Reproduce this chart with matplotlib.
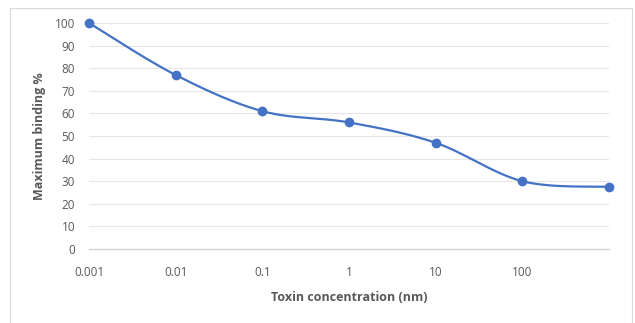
import matplotlib.pyplot as plt
import numpy as np
from matplotlib.patches import Rectangle

# data
categories = ["0.001", "0.01", "0.1", "1", "10", "100", ""]
binding = [100, 77, 61, 56, 47, 30, 27.5]

BLUE = "#4472C4"
GREY_TEXT = "#595959"


def smooth_curve(xs, ys, n=40):
    """Catmull-Rom curve through the points, like Excel's smoothed line."""
    pts = np.column_stack([xs, ys]).astype(float)
    padded = np.vstack([pts[0], pts, pts[-1]])
    out = []
    for i in range(1, len(padded) - 2):
        p0, p1, p2, p3 = padded[i - 1], padded[i], padded[i + 1], padded[i + 2]
        t = np.linspace(0, 1, n)[:, None]
        seg = 0.5 * ((2 * p1) + (-p0 + p2) * t
                     + (2 * p0 - 5 * p1 + 4 * p2 - p3) * t ** 2
                     + (-p0 + 3 * p1 - 3 * p2 + p3) * t ** 3)
        out.append(seg)
    curve = np.vstack(out)
    return curve[:, 0], curve[:, 1]


plt.rcParams["font.family"] = ["Open Sans", "DejaVu Sans"]

fig = plt.figure(figsize=(6.35, 3.23), dpi=100)
fig.patches.append(Rectangle((10 / 635, -0.01), 622 / 635, 1 - 8 / 323 + 0.01,
                             transform=fig.transFigure, fill=False,
                             edgecolor="#d9d9d9", linewidth=0.8))

ax = fig.add_axes([89 / 635, 1 - 249 / 323, 520 / 635, 226 / 323])

x = np.arange(len(binding))
sx, sy = smooth_curve(x, binding)
ax.plot(sx, sy, color=BLUE, linewidth=1.6, zorder=3, clip_on=False)
ax.plot(x, binding, "o", color=BLUE, markersize=6, zorder=4, clip_on=False)

ax.set_xlim(0, len(binding) - 1)
ax.set_ylim(0, 100)
ax.set_yticks(range(0, 101, 10))
ax.set_xticks(x)
ax.set_xticklabels(categories)
ax.grid(axis="y", color="#e6e6e6", linewidth=0.8)
ax.set_axisbelow(True)

for side in ("top", "right", "left"):
    ax.spines[side].set_visible(False)
ax.spines["bottom"].set_color("#d0d0d0")
ax.spines["bottom"].set_linewidth(0.9)
ax.tick_params(length=0, colors=GREY_TEXT, labelsize=8.5)
ax.tick_params(axis="x", pad=12)
ax.tick_params(axis="y", pad=10)

ax.set_xlabel("Toxin concentration (nm)", fontsize=9, fontweight="bold",
              color=GREY_TEXT, labelpad=9)
ax.set_ylabel("Maximum binding %", fontsize=9, fontweight="bold",
              color=GREY_TEXT, labelpad=6)

fig.savefig("out.png", dpi=100)
